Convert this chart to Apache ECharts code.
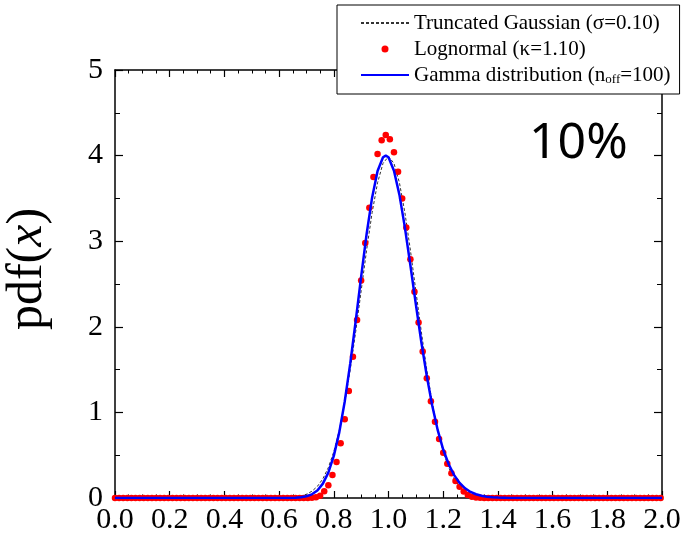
<!DOCTYPE html>
<html>
<head>
<meta charset="utf-8">
<script src="https://cdn.jsdelivr.net/npm/echarts@6/dist/echarts.min.js"></script>
<style>
html, body { margin: 0; padding: 0; background: #fff; }
#main { width: 683px; height: 535px; }
</style>
</head>
<body>
<div id="main"></div>
<script>
// x ticks / y ticks
const xTicks = [0.0, 0.2, 0.4, 0.6, 0.8, 1.0, 1.2, 1.4, 1.6, 1.8, 2.0];
const yTicks = [0, 1, 2, 3, 4, 5];

// Truncated Gaussian (dashed)
const gaussX = [0.0, 0.60, 0.62, 0.64, 0.66, 0.68, 0.70, 0.72, 0.74, 0.76, 0.78, 0.80, 0.82, 0.84, 0.86, 0.88, 0.90, 0.92, 0.94, 0.96, 0.98, 1.00,
    1.02, 1.04, 1.06, 1.08, 1.10, 1.12, 1.14, 1.16, 1.18, 1.20, 1.22, 1.24, 1.26, 1.28, 1.30, 1.32, 1.34, 1.36, 1.38, 1.40, 2.0];
const gaussY = [0, 0.001, 0.003, 0.006, 0.012, 0.024, 0.044, 0.079, 0.136, 0.224, 0.355, 0.540, 0.790, 1.109, 1.497, 1.942, 2.420, 2.897, 3.332, 3.683, 3.910, 3.989,
    3.910, 3.683, 3.332, 2.897, 2.420, 1.942, 1.497, 1.109, 0.790, 0.540, 0.355, 0.224, 0.136, 0.079, 0.044, 0.024, 0.012, 0.006, 0.003, 0.001, 0];

// Gamma distribution (blue solid)
const gammaX = [0.0, 0.60, 0.62, 0.64, 0.66, 0.68, 0.70, 0.72, 0.74, 0.76, 0.78, 0.80, 0.82, 0.84, 0.86, 0.88, 0.90, 0.92, 0.94, 0.96, 0.98, 0.99, 1.00,
    1.02, 1.04, 1.06, 1.08, 1.10, 1.12, 1.14, 1.16, 1.18, 1.20, 1.22, 1.24, 1.26, 1.28, 1.30, 1.32, 1.34, 1.36, 1.38, 1.40, 1.44, 2.0];
const gammaY = [0, 0.0001, 0.0004, 0.001, 0.003, 0.008, 0.020, 0.043, 0.088, 0.168, 0.296, 0.492, 0.767, 1.128, 1.569, 2.067, 2.586, 3.084, 3.509, 3.820, 3.980, 4.0, 3.980,
    3.824, 3.541, 3.159, 2.719, 2.264, 1.823, 1.424, 1.078, 0.792, 0.566, 0.394, 0.267, 0.176, 0.113, 0.071, 0.044, 0.026, 0.015, 0.009, 0.005, 0.001, 0];

// Lognormal (red dots)
const lognX = [0.000, 0.015, 0.030, 0.045, 0.060, 0.075, 0.090, 0.105, 0.120, 0.135, 0.150, 0.165, 0.180, 0.195, 0.210, 0.225, 0.240, 0.255, 0.270, 0.285,
    0.300, 0.315, 0.330, 0.345, 0.360, 0.375, 0.390, 0.405, 0.420, 0.435, 0.450, 0.465, 0.480, 0.495, 0.510, 0.525, 0.540, 0.555, 0.570, 0.585,
    0.600, 0.615, 0.630, 0.645, 0.660, 0.675, 0.690, 0.705, 0.720, 0.735, 0.750, 0.765, 0.780, 0.795, 0.810, 0.825, 0.840, 0.855, 0.870, 0.885,
    0.900, 0.915, 0.930, 0.945, 0.960, 0.975, 0.990, 1.005, 1.020, 1.035, 1.050, 1.065, 1.080, 1.095, 1.110, 1.125, 1.140, 1.155, 1.170, 1.185,
    1.200, 1.215, 1.230, 1.245, 1.260, 1.275, 1.290, 1.305, 1.320, 1.335, 1.350, 1.365, 1.380, 1.395, 1.410, 1.425, 1.440, 1.455, 1.470, 1.485,
    1.500, 1.515, 1.530, 1.545, 1.560, 1.575, 1.590, 1.605, 1.620, 1.635, 1.650, 1.665, 1.680, 1.695, 1.710, 1.725, 1.740, 1.755, 1.770, 1.785,
    1.800, 1.815, 1.830, 1.845, 1.860, 1.875, 1.890, 1.905, 1.920, 1.935, 1.950, 1.965, 1.980, 1.995];
const lognY = [0, 0, 0, 0, 0, 0, 0, 0, 0, 0, 0, 0, 0, 0, 0, 0, 0, 0, 0, 0,
    0, 0, 0, 0, 0, 0, 0, 0, 0, 0, 0, 0, 0, 0, 0, 0, 0, 0, 0, 0,
    0, 0, 0, 0, 0, 0, 0, 0, 0.003, 0.010, 0.025, 0.080, 0.150, 0.270, 0.420, 0.640, 0.920, 1.250, 1.650, 2.080,
    2.540, 2.980, 3.390, 3.750, 4.020, 4.180, 4.240, 4.190, 4.040, 3.810, 3.500, 3.160, 2.790, 2.410, 2.050, 1.710, 1.400, 1.130, 0.890, 0.690,
    0.530, 0.400, 0.290, 0.200, 0.130, 0.075, 0.035, 0.015, 0.006, 0.002, 0, 0, 0, 0, 0, 0, 0, 0, 0, 0,
    0, 0, 0, 0, 0, 0, 0, 0, 0, 0, 0, 0, 0, 0, 0, 0, 0, 0, 0, 0,
    0, 0, 0, 0, 0, 0, 0, 0, 0, 0, 0, 0, 0, 0];

const zip = (xs, ys) => xs.map((x, i) => [x, ys[i]]);

const serif = '"Liberation Serif", "DejaVu Serif", serif';
const axisBlack = '#000';

function xAxisOf(pos, showLabel) {
    return {
        type: 'value',
        position: pos,
        min: xTicks[0],
        max: xTicks[xTicks.length - 1],
        interval: 0.2,
        axisLine: { show: true, onZero: false, lineStyle: { color: axisBlack, width: 1.5 } },
        axisTick: { show: true, inside: true, length: 7, lineStyle: { color: axisBlack, width: 1.2 } },
        minorTick: { show: true, splitNumber: 4, length: 3.5, lineStyle: { color: axisBlack, width: 1 } },
        splitLine: { show: false },
        axisLabel: {
            show: showLabel,
            margin: 7,
            fontFamily: serif,
            fontSize: 30,
            color: '#000',
            formatter: v => v.toFixed(1)
        }
    };
}

function yAxisOf(pos, showLabel) {
    const ax = {
        type: 'value',
        position: pos,
        min: yTicks[0],
        max: yTicks[yTicks.length - 1],
        interval: 1,
        axisLine: { show: true, onZero: false, lineStyle: { color: axisBlack, width: 1.5 } },
        axisTick: { show: true, inside: true, length: 8, lineStyle: { color: axisBlack, width: 1.2 } },
        minorTick: { show: true, splitNumber: 2, length: 5, lineStyle: { color: axisBlack, width: 1 } },
        splitLine: { show: false },
        axisLabel: {
            show: showLabel,
            margin: 12,
            fontFamily: serif,
            fontSize: 30,
            color: '#000'
        }
    };
    if (showLabel) {
        ax.name = 'pdf({i|x})';
        ax.nameLocation = 'middle';
        ax.nameRotate = 90;
        ax.nameGap = 62;
        ax.nameTextStyle = {
            fontFamily: serif,
            fontSize: 50,
            color: '#000',
            padding: [0, 0, 0, 30],
            rich: { i: { fontFamily: serif, fontSize: 50, fontStyle: 'italic', color: '#000' } }
        };
    }
    return ax;
}

const chart = echarts.init(document.getElementById('main'));

const option = {
    animation: false,
    backgroundColor: '#fff',
    grid: { left: 115, right: 21, top: 70, bottom: 37, containLabel: false, outerBoundsMode: 'none' },
    xAxis: [xAxisOf('bottom', true), xAxisOf('top', false)],
    yAxis: [yAxisOf('left', true), yAxisOf('right', false)],
    legend: {
        orient: 'vertical',
        left: 337,
        top: 5,
        padding: [7, 9, 8, 23],
        itemGap: 4,
        itemWidth: 48,
        itemHeight: 7,
        backgroundColor: '#fff',
        borderColor: '#000',
        borderWidth: 1,
        borderRadius: 0,
        textStyle: {
            fontFamily: serif,
            fontSize: 21,
            lineHeight: 22,
            color: '#000',
            rich: {
                sub: { fontFamily: serif, fontSize: 13, color: '#000', verticalAlign: 'bottom', padding: [10, 0, 0, 0] }
            }
        },
        data: [
            { name: 'Truncated Gaussian (σ=0.10)', itemStyle: { opacity: 0 } },
            { name: 'Lognormal (κ=1.10)', icon: 'circle' },
            { name: 'Gamma distribution (noff=100)', itemStyle: { opacity: 0 } }
        ],
        formatter: function (name) {
            if (name.indexOf('noff') >= 0) return 'Gamma distribution (n{sub|off}=100)';
            return name;
        }
    },
    graphic: [{
        type: 'text',
        left: 529,
        top: 119,
        style: {
            text: '10%',
            font: '50px "Noto Sans", "Open Sans", sans-serif',
            fill: '#000'
        }
    }],
    series: [
        {
            name: 'Truncated Gaussian (σ=0.10)',
            type: 'line',
            data: zip(gaussX, gaussY),
            symbol: 'none',
            z: 2,
            lineStyle: { color: '#333', width: 1, type: [3, 2] },
            itemStyle: { color: '#333' }
        },
        {
            name: 'Lognormal (κ=1.10)',
            type: 'scatter',
            data: zip(lognX, lognY),
            symbol: 'circle',
            symbolSize: 6.5,
            z: 3,
            itemStyle: { color: '#ff0000', opacity: 1 }
        },
        {
            name: 'Gamma distribution (noff=100)',
            type: 'line',
            data: zip(gammaX, gammaY),
            symbol: 'none',
            z: 4,
            lineStyle: { color: '#0000ff', width: 2.5 },
            itemStyle: { color: '#0000ff' }
        }
    ]
};

chart.setOption(option);
</script>
</body>
</html>
